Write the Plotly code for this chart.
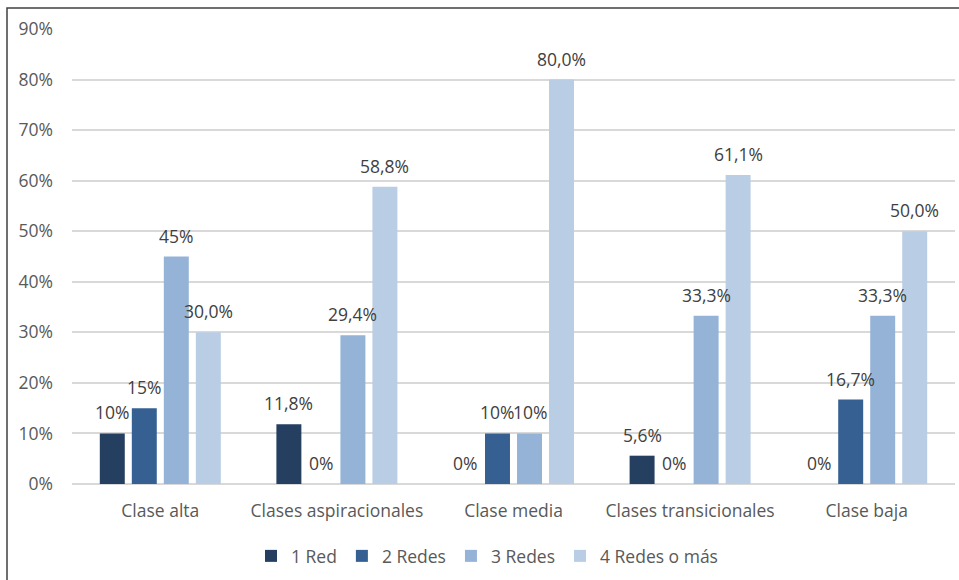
import plotly.graph_objects as go

categories = ["Clase alta", "Clases aspiracionales", "Clase media",
              "Clases transicionales", "Clase baja"]
series_names = ["1 Red", "2 Redes", "3 Redes", "4 Redes o más"]

red_1 = [10, 11.8, 0, 5.6, 0]
redes_2 = [15, 0, 10, 0, 16.7]
redes_3 = [45, 29.4, 10, 33.3, 33.3]
redes_4 = [30.0, 58.8, 80.0, 61.1, 50.0]

labels_1 = ["10%", "11,8%", "0%", "5,6%", "0%"]
labels_2 = ["15%", "0%", "10%", "0%", "16,7%"]
labels_3 = ["45%", "29,4%", "10%", "33,3%", "33,3%"]
labels_4 = ["30,0%", "58,8%", "80,0%", "61,1%", "50,0%"]

y_ticks = [0, 10, 20, 30, 40, 50, 60, 70, 80, 90]
y_tick_text = ["0%", "10%", "20%", "30%", "40%", "50%", "60%", "70%", "80%", "90%"]

values = [red_1, redes_2, redes_3, redes_4]
labels = [labels_1, labels_2, labels_3, labels_4]
colors = ["#243F60", "#366092", "#95B3D7", "#B9CDE5"]

FONT = "Open Sans"
FS = 17.5
W, H = 959, 580
ML, MR, MT, MB = 72, 4, 29, 96
plot_w = W - ML - MR
plot_h = H - MT - MB

fig = go.Figure()
for name, vals, col in zip(series_names, values, colors):
    fig.add_trace(go.Bar(
        name=name, x=categories, y=vals,
        marker=dict(color=col, line=dict(width=0)),
    ))

# value labels above each bar
slot = plot_w / len(categories) * (1 - 0.275) / 4
for i, (vals, labs) in enumerate(zip(values, labels)):
    for cat, v, t in zip(categories, vals, labs):
        fig.add_annotation(
            x=cat, y=v, text=t, showarrow=False,
            xshift=(i - 1.5) * slot, yshift=21, yanchor="middle",
            font=dict(family=FONT, size=FS, color="#404040"),
        )

# outer frame
fig.add_shape(
    type="rect", xref="paper", yref="paper",
    x0=(7 - ML) / plot_w, x1=1.2,
    y0=-0.5, y1=1 + (MT - 8) / plot_h,
    line=dict(color="#404040", width=1.5), fillcolor="rgba(0,0,0,0)",
    layer="above",
)

fig.update_layout(
    width=W, height=H,
    margin=dict(l=ML, r=MR, t=MT, b=MB),
    paper_bgcolor="white", plot_bgcolor="white",
    barmode="group", bargap=0.275, bargroupgap=0.22,
    font=dict(family=FONT, size=FS, color="#595959"),
    showlegend=True,
    legend=dict(
        orientation="h", x=(487 - ML) / plot_w, xanchor="center",
        y=-(556 - 484) / plot_h, yanchor="middle",
        font=dict(family=FONT, size=FS, color="#595959"),
        traceorder="normal",
    ),
    xaxis=dict(
        showgrid=False, showline=False, ticks="",
        tickfont=dict(family=FONT, size=FS, color="#595959"),
        ticklabelstandoff=14,
    ),
    yaxis=dict(
        range=[0, 90], tickmode="array", tickvals=y_ticks, ticktext=y_tick_text,
        showgrid=True, gridcolor="#D9D9D9", gridwidth=1.5,
        zeroline=True, zerolinecolor="#D9D9D9", zerolinewidth=1.5,
        showline=False, ticks="",
        tickfont=dict(family=FONT, size=FS, color="#595959"),
        ticklabelstandoff=18,
    ),
)

fig.write_html("out.html")
